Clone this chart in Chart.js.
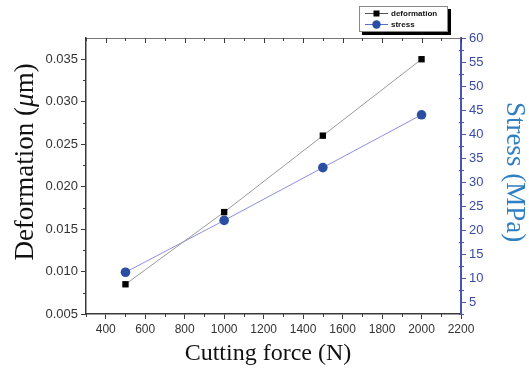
<!DOCTYPE html>
<html>
<head>
<meta charset="utf-8">
<script src="https://cdn.jsdelivr.net/npm/chart.js@4.4.1/dist/chart.umd.min.js"></script>
<style>
  html, body { margin: 0; padding: 0; background: #fff; }
  #chart { display: block; }
</style>
</head>
<body>
<canvas id="chart" width="529" height="371"></canvas>
<script>
// data
const force = [500, 1000, 1500, 2000];
const deformation = [0.0085, 0.017, 0.026, 0.035];
const stress = [11.2, 22, 33, 44];

// tick labels
const xTicks = [400, 600, 800, 1000, 1200, 1400, 1600, 1800, 2000, 2200];
const yTicks = [0.005, 0.010, 0.015, 0.020, 0.025, 0.030, 0.035];
const y2Ticks = [5, 10, 15, 20, 25, 30, 35, 40, 45, 50, 55, 60];

const AXIS = "#3a3a3a";
const BLUE_AXIS = "#4a55b4";
const BLUE_TXT = "#3b4aa4";

const setTicks = list => s => { s.ticks = list.map(v => ({ value: v })); };

// minor ticks, top frame ticks, axis titles
const decor = {
  id: "decor",
  afterDraw(chart) {
    const { ctx, chartArea: a, scales } = chart;
    const { x, y, y2 } = scales;
    ctx.save();
    ctx.lineWidth = 1;

    // top frame
    ctx.strokeStyle = "#777";
    ctx.beginPath();
    ctx.moveTo(a.left, a.top + 0.5);
    ctx.lineTo(a.right, a.top + 0.5);
    ctx.stroke();

    ctx.strokeStyle = AXIS;
    ctx.beginPath();
    for (let v = 300; v <= 2200; v += 100) {
      const px = Math.round(x.getPixelForValue(v)) + 0.5;
      const major = v % 200 === 0;
      // top, inward
      ctx.moveTo(px, a.top);
      ctx.lineTo(px, a.top + (major ? 5 : 3));
      // bottom minor, outward
      if (!major) {
        ctx.moveTo(px, a.bottom);
        ctx.lineTo(px, a.bottom + 3);
      }
    }
    for (let i = 0; i < yTicks.length; i++) {
      const v = yTicks[i] + 0.0025;
      if (v > y.max) break;
      const py = Math.round(y.getPixelForValue(v)) + 0.5;
      ctx.moveTo(a.left, py);
      ctx.lineTo(a.left - 3, py);
    }
    ctx.stroke();

    ctx.strokeStyle = BLUE_AXIS;
    ctx.beginPath();
    for (let v = 2.5; v <= 60; v += 5) {
      const py = Math.round(y2.getPixelForValue(v)) + 0.5;
      ctx.moveTo(a.right - 2, py);
      ctx.lineTo(a.right + 3, py);
    }
    ctx.stroke();

    // titles
    ctx.fillStyle = "#111";
    ctx.textBaseline = "alphabetic";
    ctx.textAlign = "center";
    ctx.font = "24px 'Liberation Serif', serif";
    ctx.fillText("Cutting force (N)", 268, 360);

    // left title, pieces so the mu can be italic
    const parts = [
      ["Deformation (", "27px 'Liberation Serif', serif"],
      ["\u03bc", "italic 27px 'Liberation Serif', serif"],
      ["m)", "27px 'Liberation Serif', serif"]
    ];
    let total = 0;
    parts.forEach(p => { ctx.font = p[1]; total += ctx.measureText(p[0]).width; });
    ctx.save();
    ctx.translate(33, 162);
    ctx.rotate(-Math.PI / 2);
    ctx.textAlign = "left";
    let cx = -total / 2;
    parts.forEach(p => {
      ctx.font = p[1];
      ctx.fillText(p[0], cx, 0);
      cx += ctx.measureText(p[0]).width;
    });
    ctx.restore();

    ctx.save();
    ctx.translate(507, 172);
    ctx.rotate(Math.PI / 2);
    ctx.fillStyle = "#2f7fc2";
    ctx.font = "27px 'Liberation Serif', serif";
    ctx.textAlign = "center";
    ctx.fillText("Stress (MPa)", 0, 0);
    ctx.restore();

    // legend box with shadow
    const lx = 359, ly = 6, lw = 89, lh = 26;
    ctx.fillStyle = "#000";
    ctx.fillRect(lx + 3, ly + 3, lw, lh);
    ctx.fillStyle = "#fff";
    ctx.fillRect(lx, ly, lw, lh);
    ctx.strokeStyle = "#8a8a8a";
    ctx.strokeRect(lx + 0.5, ly + 0.5, lw - 1, lh - 1);

    const rows = [
      { label: "deformation", line: "#555", fill: "#000", style: "rect", yy: 13.5 },
      { label: "stress", line: "#5a6ad0", fill: "#2b4ea3", style: "circle", yy: 24.5 }
    ];
    rows.forEach(r => {
      ctx.strokeStyle = r.line;
      ctx.beginPath();
      ctx.moveTo(365, r.yy);
      ctx.lineTo(388, r.yy);
      ctx.stroke();
      ctx.fillStyle = r.fill;
      if (r.style === "rect") {
        ctx.fillRect(373.5, r.yy - 3, 6, 6);
      } else {
        ctx.beginPath();
        ctx.arc(376.5, r.yy, 4.2, 0, Math.PI * 2);
        ctx.fill();
      }
      ctx.fillStyle = "#111";
      ctx.font = "bold 8px 'Liberation Sans', Arial, sans-serif";
      ctx.textAlign = "left";
      ctx.textBaseline = "middle";
      ctx.fillText(r.label, 391, r.yy);
    });

    ctx.restore();
  }
};

new Chart(document.getElementById("chart"), {
  type: "line",
  data: {
    datasets: [
      {
        label: "deformation",
        data: force.map((f, i) => ({ x: f, y: deformation[i] })),
        yAxisID: "y",
        borderColor: "#9a9a9a",
        borderWidth: 1,
        pointStyle: "rect",
        pointRadius: 4.5,
        pointBackgroundColor: "#000",
        pointBorderColor: "#000",
        pointBorderWidth: 0
      },
      {
        label: "stress",
        data: force.map((f, i) => ({ x: f, y: stress[i] })),
        yAxisID: "y2",
        borderColor: "#8c8ee0",
        borderWidth: 1,
        pointStyle: "circle",
        pointRadius: 4.8,
        pointBackgroundColor: "#2b4ea3",
        pointBorderColor: "#2b4ea3",
        pointBorderWidth: 0
      }
    ]
  },
  options: {
    responsive: false,
    animation: false,
    devicePixelRatio: 1,
    layout: { padding: { top: 38, left: 0, right: 0, bottom: 0 } },
    plugins: { legend: { display: false }, tooltip: { enabled: false } },
    scales: {
      x: {
        type: "linear",
        position: "bottom",
        min: 300,
        max: 2200,
        afterBuildTicks: setTicks(xTicks),
        afterFit: s => { s.height = 57; },
        ticks: {
          color: "#333",
          padding: 3,
          maxRotation: 0,
          callback: v => String(v),
          font: { family: "'Liberation Sans Narrow', 'Liberation Sans', Arial", size: 12 }
        },
        grid: { drawOnChartArea: false, drawTicks: true, tickLength: 5, color: AXIS },
        border: { color: AXIS, width: 1.5 }
      },
      y: {
        type: "linear",
        position: "left",
        min: 0.005,
        max: 0.0375,
        afterBuildTicks: setTicks(yTicks),
        afterFit: s => { s.width = 86; },
        ticks: {
          color: "#333",
          padding: 3,
          callback: v => v.toFixed(3),
          font: { family: "'Liberation Sans', Arial", size: 13 }
        },
        grid: { drawOnChartArea: false, drawTicks: true, tickLength: 5, color: AXIS },
        border: { color: AXIS, width: 1.5 }
      },
      y2: {
        type: "linear",
        position: "right",
        min: 2.5,
        max: 60,
        afterBuildTicks: setTicks(y2Ticks),
        afterFit: s => { s.width = 68; },
        ticks: {
          color: BLUE_TXT,
          padding: 3,
          callback: v => String(v),
          font: { family: "'Liberation Sans', Arial", size: 13 }
        },
        grid: { drawOnChartArea: false, drawTicks: true, tickLength: 5, color: BLUE_AXIS },
        border: { color: BLUE_AXIS, width: 2 }
      }
    }
  },
  plugins: [decor]
});
</script>
</body>
</html>
